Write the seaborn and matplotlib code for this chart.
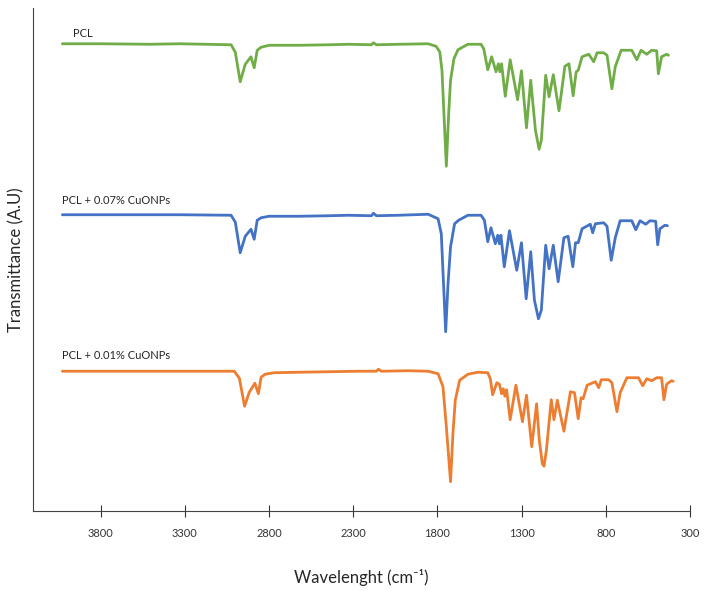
import numpy as np
import pandas as pd
import matplotlib
matplotlib.use("Agg")
import matplotlib.pyplot as plt
import seaborn as sns

# values (wavenumber in cm-1, transmittance in arbitrary units)
pcl_wn = [4027, 3802, 3507, 3330, 3025, 3000, 2971, 2941, 2907, 2888, 2870, 2847, 2799,
          2622, 2445, 2327, 2192, 2180, 2162, 2032, 1855, 1808, 1786, 1773, 1747, 1733,
          1722, 1702, 1678, 1619, 1541, 1525, 1501, 1478, 1452, 1438, 1429, 1419, 1397,
          1368, 1324, 1301, 1271, 1246, 1218, 1196, 1183, 1157, 1137, 1112, 1078, 1043,
          1019, 994, 976, 964, 941, 901, 872, 852, 813, 793, 764, 744, 709, 646, 616, 591,
          557, 528, 498, 488, 469, 439, 428]
pcl_t = [93.5, 93.5, 93.4, 93.5, 93.3, 91.8, 85.9, 89.4, 90.9, 88.7, 92.2, 92.8, 93.2,
         93.2, 93.3, 93.4, 93.3, 93.7, 93.3, 93.4, 93.5, 93.0, 91.9, 88.2, 69.0, 79.6,
         86.2, 90.5, 92.3, 93.4, 93.4, 92.5, 88.3, 90.9, 87.9, 89.5, 87.9, 89.5, 83.0,
         90.3, 82.3, 88.1, 76.7, 86.2, 76.2, 72.4, 74.2, 87.2, 82.9, 87.3, 80.1, 89.0,
         89.5, 83.1, 87.9, 88.2, 90.9, 91.4, 89.9, 91.7, 91.7, 91.2, 84.5, 88.9, 92.2,
         92.2, 90.3, 92.2, 91.4, 92.2, 92.1, 87.5, 90.9, 91.4, 91.2]

cu007_wn = [4027, 3802, 3507, 3330, 3025, 3000, 2971, 2941, 2907, 2888, 2870, 2847, 2799,
            2622, 2445, 2327, 2192, 2180, 2162, 2032, 1855, 1796, 1777, 1751, 1737, 1722,
            1698, 1674, 1619, 1541, 1521, 1501, 1482, 1456, 1442, 1432, 1423, 1403, 1372,
            1329, 1301, 1273, 1246, 1224, 1200, 1183, 1157, 1137, 1112, 1083, 1049, 1024,
            996, 980, 964, 941, 892, 878, 862, 813, 793, 768, 744, 715, 646, 622, 597, 563,
            538, 504, 492, 479, 449, 434]
cu007_t = [59.3, 59.3, 59.3, 59.3, 59.2, 57.8, 51.7, 55.0, 56.4, 54.4, 58.2, 58.7, 59.0,
           59.0, 59.1, 59.2, 59.1, 59.6, 59.1, 59.2, 59.4, 58.5, 55.5, 35.9, 45.5, 52.9,
           57.5, 58.2, 59.2, 59.2, 58.2, 53.9, 56.7, 53.5, 55.2, 53.5, 55.2, 48.9, 56.1,
           48.2, 53.7, 42.5, 51.9, 42.2, 38.5, 40.2, 53.2, 48.5, 53.2, 45.9, 54.7, 55.0,
           48.9, 53.7, 53.7, 56.5, 57.4, 55.7, 57.5, 57.7, 57.0, 50.2, 54.7, 58.1, 58.1,
           56.3, 58.1, 57.4, 58.1, 58.0, 53.3, 56.5, 57.2, 57.1]

cu001_wn = [4027, 3802, 3507, 3212, 3006, 2976, 2945, 2917, 2884, 2863, 2847, 2823, 2770,
            2622, 2445, 2268, 2162, 2150, 2133, 1973, 1855, 1796, 1767, 1747, 1722, 1708,
            1694, 1668, 1619, 1560, 1501, 1486, 1472, 1447, 1432, 1419, 1409, 1399, 1389,
            1368, 1334, 1295, 1271, 1240, 1211, 1195, 1177, 1167, 1153, 1124, 1108, 1088,
            1049, 1010, 986, 964, 947, 935, 911, 862, 842, 827, 783, 764, 734, 715, 675,
            606, 581, 557, 528, 498, 469, 455, 439, 410, 400]
cu001_t = [28.0, 28.0, 28.0, 28.0, 28.0, 26.6, 21.0, 23.8, 25.6, 23.5, 26.8, 27.4, 27.7,
           27.8, 27.9, 28.0, 28.0, 28.4, 28.0, 28.1, 28.0, 27.5, 24.9, 16.9, 5.9, 15.5,
           22.2, 26.2, 27.4, 27.8, 27.7, 26.5, 23.3, 25.7, 25.4, 23.5, 24.5, 23.0, 24.3,
           18.3, 25.2, 17.9, 23.2, 12.9, 21.5, 14.2, 9.5, 9.0, 12.2, 22.3, 18.3, 22.2,
           16.0, 23.9, 23.7, 18.5, 22.7, 22.5, 25.2, 25.9, 24.7, 26.3, 26.3, 25.7, 19.9,
           23.7, 26.7, 26.7, 25.1, 26.5, 26.1, 26.7, 26.7, 22.3, 25.4, 26.1, 26.0]

series_names = ["PCL", "PCL + 0.07% CuONPs", "PCL + 0.01% CuONPs"]
series_colors = ["#70AD47", "#4472C4", "#ED7D31"]
x_ticks = [3800, 3300, 2800, 2300, 1800, 1300, 800, 300]

sns.set_style("white")
plt.rcParams["font.family"] = ["Lato", "DejaVu Sans"]

fig = plt.figure(figsize=(7.07, 5.91), dpi=100)
ax = fig.add_axes([0.047, 0.135, 0.929, 0.851])

frames = [
    pd.DataFrame({"wn": pcl_wn, "t": pcl_t}),
    pd.DataFrame({"wn": cu007_wn, "t": cu007_t}),
    pd.DataFrame({"wn": cu001_wn, "t": cu001_t}),
]
for df, color in zip(frames, series_colors):
    sns.lineplot(data=df, x="wn", y="t", sort=False, estimator=None,
                 color=color, linewidth=2.0, solid_joinstyle="round",
                 solid_capstyle="round", ax=ax)

# series labels above each trace
ax.text(3962, 95.6, series_names[0], fontsize=8, va="center", ha="left", color="#262626")
ax.text(4027, 62.2, series_names[1], fontsize=8, va="center", ha="left", color="#262626")
ax.text(4027, 31.2, series_names[2], fontsize=8, va="center", ha="left", color="#262626")

ax.set_xlim(4200, 300)
ax.set_ylim(0, 100.6)
ax.set_xticks(x_ticks)
ax.set_yticks([])
ax.tick_params(axis="x", direction="inout", length=8, width=0.8, pad=8,
               labelsize=8, colors="#333333", bottom=True)
ax.set_xlabel("Wavelenght (cm\u207b\u00b9)", fontsize=12, labelpad=22, color="#262626")
ax.set_ylabel("Transmittance (A.U)", fontsize=12, labelpad=6, color="#262626")

sns.despine(ax=ax, top=True, right=True)
for side in ["left", "bottom"]:
    ax.spines[side].set_color("#444444")
    ax.spines[side].set_linewidth(0.8)

fig.savefig("out.png", dpi=100)
